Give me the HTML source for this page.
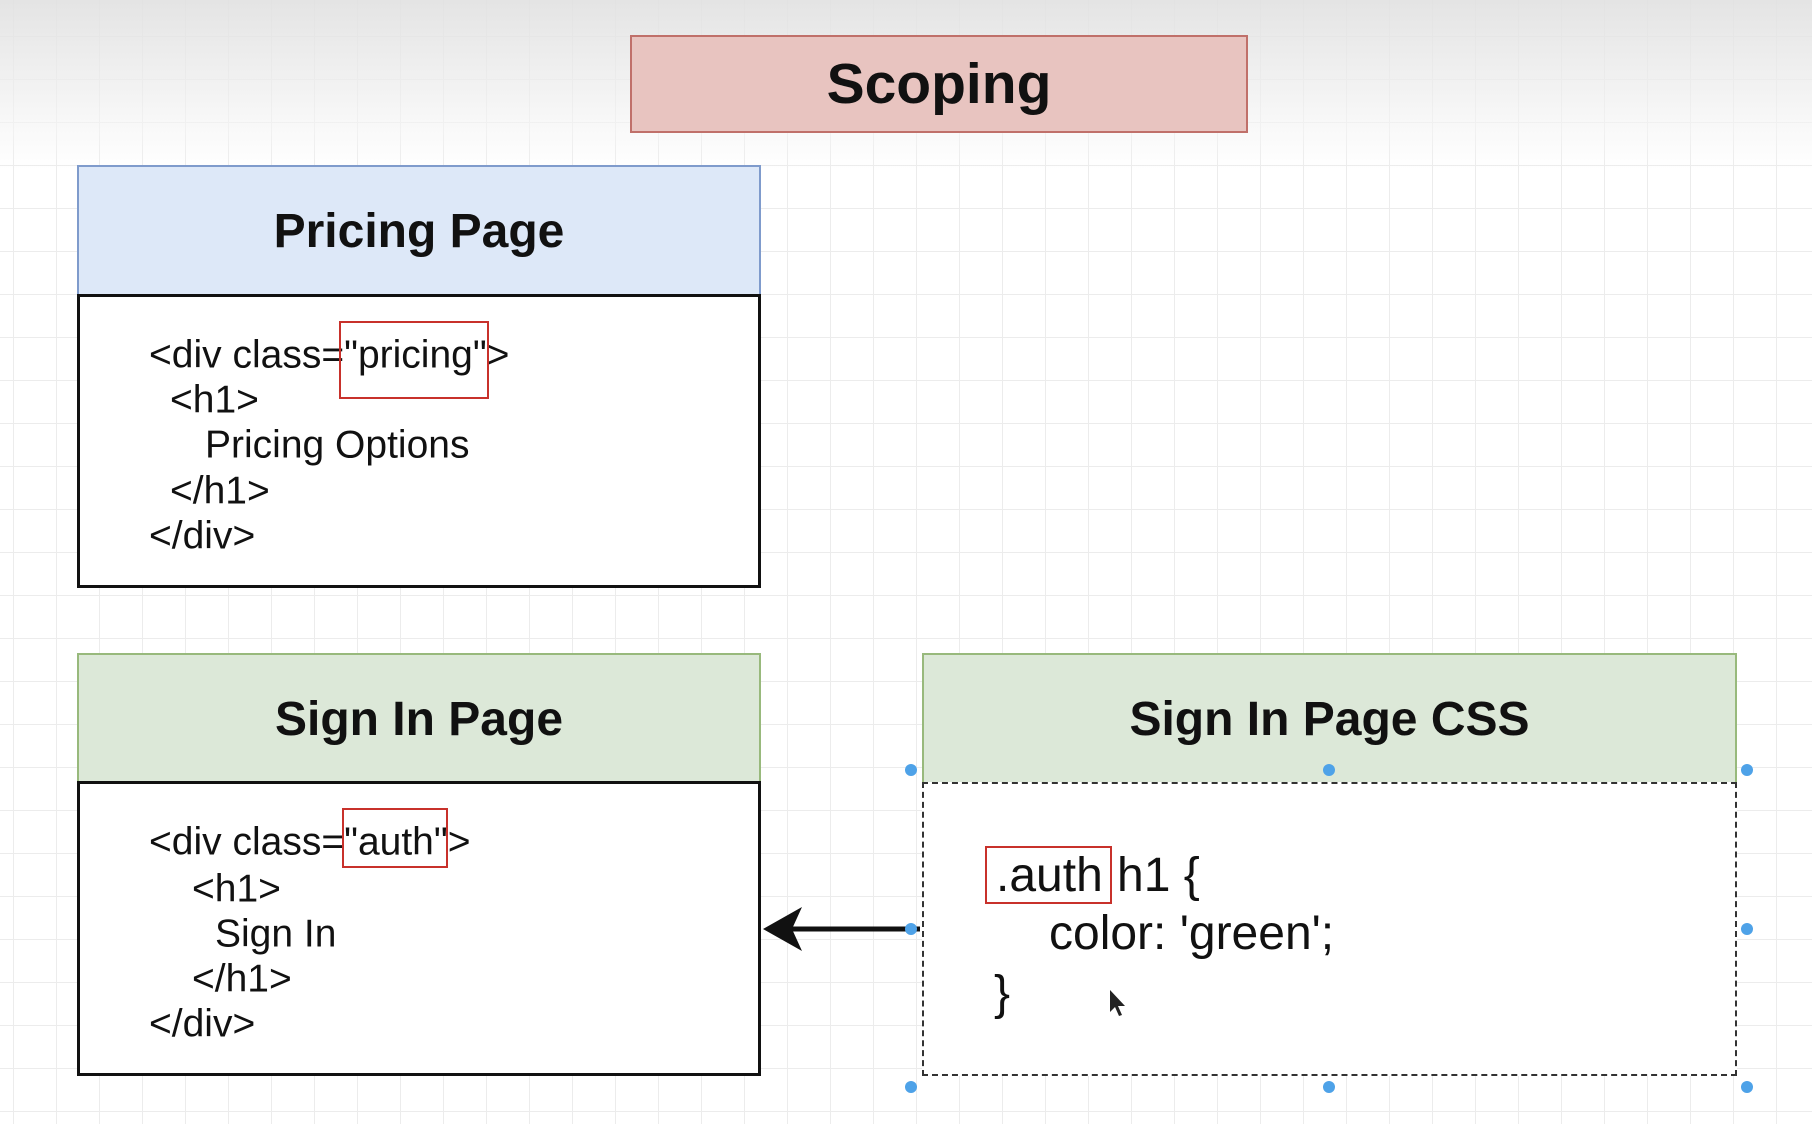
<!DOCTYPE html>
<html><head><meta charset="utf-8"><style>
html,body{margin:0;padding:0}
body{width:1812px;height:1124px;position:relative;overflow:hidden;font-family:"Liberation Sans",sans-serif;
background-color:#fff;
background-image:linear-gradient(to bottom,rgba(225,225,225,.9) 0,rgba(245,245,245,.6) 130px,rgba(255,255,255,0) 170px),
linear-gradient(to right,#ececec 1px,transparent 1px),linear-gradient(to bottom,#ececec 1px,transparent 1px);
background-size:100% 100%,43px 43px,43px 43px;background-position:0 0,13px 0,0 36px}
.abs{position:absolute;box-sizing:border-box}
.hdr{display:flex;align-items:center;justify-content:center;font-weight:bold;font-size:48px;color:#111}
.line{position:absolute;font-size:39px;color:#111;white-space:pre;line-height:1;transform:translateY(-50%)}
.red{position:absolute;border:2px solid #c8312b;box-sizing:border-box}
.dot{position:absolute;width:12px;height:12px;border-radius:50%;background:#4ea2e8;margin:-6px 0 0 -6px}
</style></head><body>
<div class="abs hdr" style="left:630px;top:35px;width:618px;height:98px;background:#e8c4c0;border:2px solid #c0706a;font-size:57px">Scoping</div>

<div class="abs hdr" style="left:77px;top:165px;width:684px;height:131px;background:#dde8f8;border:2px solid #7f9bcc;border-bottom:none">Pricing Page</div>
<div class="abs" style="left:77px;top:294px;width:684px;height:294px;background:#fff;border:3px solid #111"></div>
<div class="line" style="left:149px;top:355px">&lt;div class="pricing"&gt;</div>
<div class="line" style="left:170px;top:400px">&lt;h1&gt;</div>
<div class="line" style="left:205px;top:445px">Pricing Options</div>
<div class="line" style="left:170px;top:491px">&lt;/h1&gt;</div>
<div class="line" style="left:149px;top:536px">&lt;/div&gt;</div>
<div class="red" style="left:339px;top:321px;width:150px;height:78px"></div>

<div class="abs hdr" style="left:77px;top:653px;width:684px;height:130px;background:#dce8d8;border:2px solid #98b97c;border-bottom:none">Sign In Page</div>
<div class="abs" style="left:77px;top:781px;width:684px;height:295px;background:#fff;border:3px solid #111"></div>
<div class="line" style="left:149px;top:842px">&lt;div class="auth"&gt;</div>
<div class="line" style="left:192px;top:889px">&lt;h1&gt;</div>
<div class="line" style="left:215px;top:934px">Sign In</div>
<div class="line" style="left:192px;top:979px">&lt;/h1&gt;</div>
<div class="line" style="left:149px;top:1024px">&lt;/div&gt;</div>
<div class="red" style="left:342px;top:808px;width:106px;height:60px"></div>

<div class="abs hdr" style="left:922px;top:653px;width:815px;height:130px;background:#dce8d8;border:2px solid #98b97c;border-bottom:none">Sign In Page CSS</div>
<div class="abs" style="left:922px;top:782px;width:815px;height:294px;background:#fff;border:2px dashed #333"></div>
<div class="line" style="left:996px;top:876px;font-size:48px">.auth</div>
<div class="line" style="left:1117px;top:876px;font-size:48px">h1 {</div>
<div class="line" style="left:1049px;top:934px;font-size:48px">color: 'green';</div>
<div class="line" style="left:994px;top:994px;font-size:48px">}</div>
<div class="red" style="left:985px;top:846px;width:127px;height:58px"></div>

<svg class="abs" style="left:0;top:0" width="1812" height="1124">
<line x1="920" y1="929" x2="790" y2="929" stroke="#111" stroke-width="5"/>
<polygon points="763,929 802,907 792,929 802,951" fill="#111"/>
<path d="M1110 990 l0 22 l5 -5 l4 9 l3 -1 l-4 -9 l7 0 z" fill="#222"/>
</svg>
<div class="dot" style="left:911px;top:770px"></div>
<div class="dot" style="left:1329px;top:770px"></div>
<div class="dot" style="left:1747px;top:770px"></div>
<div class="dot" style="left:911px;top:929px"></div>
<div class="dot" style="left:1747px;top:929px"></div>
<div class="dot" style="left:911px;top:1087px"></div>
<div class="dot" style="left:1329px;top:1087px"></div>
<div class="dot" style="left:1747px;top:1087px"></div>
</body></html>
